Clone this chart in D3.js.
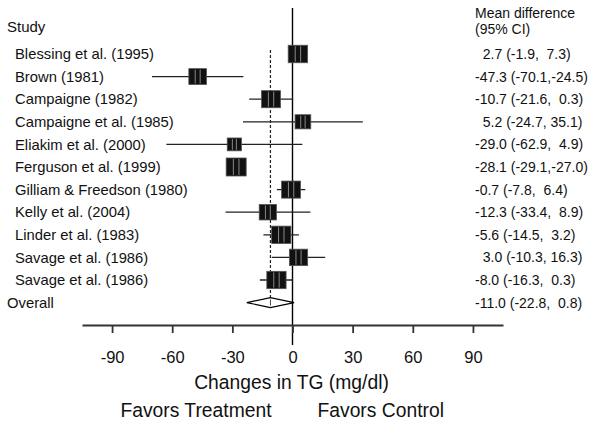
<!DOCTYPE html>
<html><head><meta charset="utf-8">
<script src="https://cdn.jsdelivr.net/npm/d3@7"></script>
<style>
body{margin:0;background:#fff}
text{font-family:"Liberation Sans",Arial,sans-serif;fill:#111;white-space:pre}
</style>
</head><body><svg id="c" width="600" height="425"></svg>
<script>
const studies = ["Blessing et al. (1995)","Brown (1981)","Campaigne (1982)","Campaigne et al. (1985)","Eliakim et al. (2000)","Ferguson et al. (1999)","Gilliam & Freedson (1980)","Kelly et al. (2004)","Linder et al. (1983)","Savage et al. (1986)","Savage et al. (1986)"];
const means = [2.7,-47.3,-10.7,5.2,-29.0,-28.1,-0.7,-12.3,-5.6,3.0,-8.0];
const lows  = [-1.9,-70.1,-21.6,-24.7,-62.9,-29.1,-7.8,-33.4,-14.5,-10.3,-16.3];
const highs = [7.3,-24.5,0.3,35.1,4.9,-27.0,6.4,8.9,3.2,16.3,0.3];
const weights = [10.4,8.6,9.9,6.8,5.6,11.0,9.9,8.2,10.2,9.2,10.2];
const overallLabel = "Overall";
const overallMean = -11.0, overallLow = -22.8, overallHigh = 0.8;
const xTicks = [-90,-60,-30,0,30,60,90];
const xTitle = "Changes in TG (mg/dl)";
const favLeft = "Favors Treatment", favRight = "Favors Control";

const svg = d3.select("#c");
const x = d3.scaleLinear().domain([-105,105]).range([82,503]);
const rows = studies.map((s,i)=>i).concat(["overall"]);
const y = d3.scalePoint().domain(rows).range([54,302.6]);
const size = d3.scaleSqrt().domain([0,11]).range([0,20]);

const f1 = v => v.toFixed(1);
const fmtMean = v => (v >= 0 ? "  " : "") + f1(v);
const fmtCI = (lo,hi) => "(" + f1(lo) + "," + f1(hi).padStart(5," ") + ")";

// headers
svg.append("text").attr("x",7).attr("y",27).attr("dy","0.35em").style("font-size","15px").text("Study");
svg.append("text").attr("x",475).attr("y",13).attr("dy","0.35em").style("font-size","14px").text("Mean difference");
svg.append("text").attr("x",475).attr("y",29.5).attr("dy","0.35em").style("font-size","14px").text("(95% CI)");

// labels
svg.selectAll("text.lab").data(studies).enter().append("text").attr("class","lab")
  .attr("x",15).attr("y",(d,i)=>y(i)).attr("dy","0.35em").style("font-size","14.8px").text(d=>d);
svg.append("text").attr("x",7).attr("y",y("overall")).attr("dy","0.35em").style("font-size","14.8px").text(overallLabel);

// values
svg.selectAll("text.val").data(means).enter().append("text").attr("class","val")
  .attr("x",475).attr("y",(d,i)=>y(i)).attr("dy","0.35em").style("font-size","14px")
  .text((d,i)=>fmtMean(d)+" "+fmtCI(lows[i],highs[i]));
svg.append("text").attr("x",475).attr("y",y("overall")).attr("dy","0.35em").style("font-size","14px")
  .text(fmtMean(overallMean)+" "+fmtCI(overallLow,overallHigh));

// zero line
svg.append("line").attr("x1",x(0)).attr("x2",x(0)).attr("y1",8).attr("y2",345)
  .attr("stroke","#000").attr("stroke-width",1.4);
// overall dashed line
svg.append("line").attr("x1",x(overallMean)).attr("x2",x(overallMean)).attr("y1",y(0)-4).attr("y2",y("overall")+4)
  .attr("stroke","#222").attr("stroke-width",1.2).attr("stroke-dasharray","3,2");

// CI lines
svg.selectAll("line.ci").data(means).enter().append("line").attr("class","ci")
  .attr("x1",(d,i)=>x(lows[i])).attr("x2",(d,i)=>x(highs[i]))
  .attr("y1",(d,i)=>y(i)).attr("y2",(d,i)=>y(i))
  .attr("stroke","#222").attr("stroke-width",1.3);

// boxes
const g = svg.selectAll("g.box").data(means).enter().append("g").attr("class","box");
g.append("rect")
  .attr("x",(d,i)=>x(d)-size(weights[i])/2)
  .attr("y",(d,i)=>y(i)-size(weights[i])*0.45)
  .attr("width",(d,i)=>size(weights[i]))
  .attr("height",(d,i)=>size(weights[i])*0.9)
  .attr("fill","#111").attr("stroke","#555").attr("stroke-width",0.8);
[0.36,0.64].forEach(fr=>{
  g.append("line")
    .attr("x1",(d,i)=>x(d)-size(weights[i])/2+size(weights[i])*fr)
    .attr("x2",(d,i)=>x(d)-size(weights[i])/2+size(weights[i])*fr)
    .attr("y1",(d,i)=>y(i)-size(weights[i])*0.45+1)
    .attr("y2",(d,i)=>y(i)+size(weights[i])*0.45-1)
    .attr("stroke","#888").attr("stroke-width",1);
});

// diamond
const yo = y("overall");
svg.append("path")
  .attr("d",`M${x(overallLow)},${yo} L${x(overallMean)},${yo-5} L${x(overallHigh)},${yo} L${x(overallMean)},${yo+5} Z`)
  .attr("fill","#fff").attr("stroke","#000").attr("stroke-width",1.1);
svg.append("line").attr("x1",x(overallMean)).attr("x2",x(overallMean)).attr("y1",yo-3).attr("y2",yo+3)
  .attr("stroke","#444").attr("stroke-width",1);

// axis
const ax = svg.append("g").attr("transform","translate(0,325)")
  .call(d3.axisBottom(x).tickValues(xTicks).tickSize(8).tickSizeOuter(0).tickPadding(18).tickFormat(d=>String(d)));
ax.select(".domain").attr("stroke","#333").attr("stroke-width",1.8);
ax.selectAll(".tick line").attr("stroke","#333").attr("stroke-width",1.8);
ax.selectAll(".tick text").style("font-size","16.5px").style("font-family","'Liberation Sans',Arial,sans-serif").attr("fill","#111");

svg.append("text").attr("x",x(0)-1).attr("y",382).attr("dy","0.35em").attr("text-anchor","middle")
  .style("font-size","19.3px").text(xTitle);
svg.append("text").attr("x",x(0)-21).attr("y",410).attr("dy","0.35em").attr("text-anchor","end")
  .style("font-size","19.3px").text(favLeft);
svg.append("text").attr("x",x(0)+25).attr("y",410).attr("dy","0.35em").attr("text-anchor","start")
  .style("font-size","19.3px").text(favRight);
</script>
</body></html>
